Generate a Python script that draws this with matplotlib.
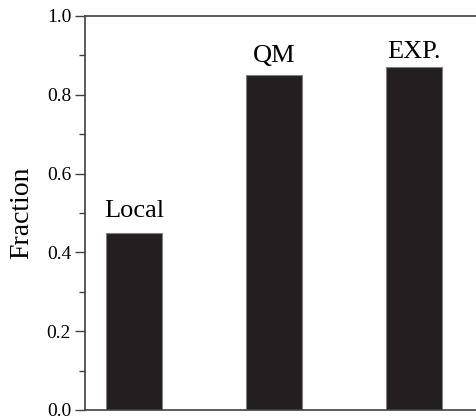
import matplotlib
matplotlib.use("Agg")
import matplotlib.pyplot as plt
from matplotlib.ticker import MultipleLocator

categories = ["Local", "QM", "EXP."]
values = [0.45, 0.85, 0.87]
label_gaps_pt = [11.5, 9.4, 6.5]

plt.rcParams['font.family'] = ['Liberation Serif', 'DejaVu Serif']

fig = plt.figure(figsize=(4.77, 4.16), dpi=100)
ax = fig.add_axes([85/477, 6/416, 392/477, 394/416])

x = list(range(len(categories)))
ax.bar(x, values, width=0.4, color="#231f20", edgecolor="#808080", linewidth=0.8)
for xi, v, c, g in zip(x, values, categories, label_gaps_pt):
    ax.annotate(c, (xi, v), xytext=(0, g), textcoords="offset points",
                ha="center", va="baseline", fontsize=19)

ax.set_xlim(-0.35, 2.45)
ax.set_ylim(0, 1.0)
ax.yaxis.set_major_locator(MultipleLocator(0.2))
ax.yaxis.set_minor_locator(MultipleLocator(0.1))
ax.set_xticks([])
ax.tick_params(axis='y', which='major', direction='out', length=7, width=1, color="#404040", labelsize=14, pad=3)
ax.tick_params(axis='y', which='minor', direction='out', length=4, width=1, color="#404040")
ax.set_ylabel("Fraction", fontsize=20, labelpad=9)
for s in ["left", "top", "bottom"]:
    ax.spines[s].set_color("#404040")
    ax.spines[s].set_linewidth(1.2)
ax.spines["right"].set_visible(False)

fig.savefig("out.png", dpi=100)
